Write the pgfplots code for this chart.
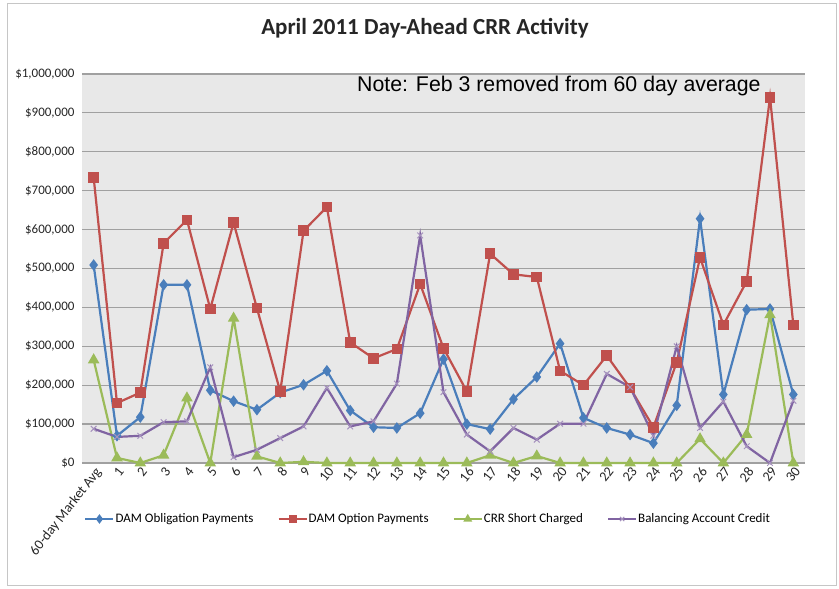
\documentclass[border=0pt]{standalone}
\usepackage{pgfplots}
\pgfplotsset{compat=1.18}
\usepackage{pgfplotstable}
\usepackage{fontspec}
\setmainfont{Carlito}
\newfontfamily\arialfont{Liberation Sans}
\definecolor{cblue}{RGB}{74,126,187}
\definecolor{cred}{RGB}{192,80,77}
\definecolor{cgreen}{RGB}{155,187,89}
\definecolor{cpurple}{RGB}{128,100,162}
\definecolor{plotbg}{RGB}{232,232,232}
\definecolor{gridc}{RGB}{160,160,160}
\pgfplotstableread{
x blue red green purple
0 509 734 265 88
1 70 154 13 67
2 118 181 0 70
3 458 565 20 105
4 458 625 167 107
5 187 396 0 246
6 159 618 372 15
7 137 398 17 34
8 181 184 0 64
9 201 597 3 94
10 237 658 0 193
11 135 310 0 94
12 92 269 0 107
13 90 293 0 204
14 128 460 0 585
15 267 295 0 182
16 100 184 0 73
17 87 538 20 30
18 164 485 0 90
19 221 478 18 60
20 307 237 0 101
21 116 200 0 101
22 90 276 0 229
23 73 193 0 195
24 51 92 0 70
25 148 259 0 300
26 628 528 62 90
27 176 355 0 158
28 394 467 73 43
29 396 940 381 0
30 176 355 0 160
}\datatable
\begin{document}
\begin{tikzpicture}
\useasboundingbox (0pt,0pt) rectangle (839pt,589pt);
\draw[gray!45,line width=1pt] (7pt,3pt) rectangle (836pt,585pt);
\begin{axis}[
  at={(82pt,126pt)}, anchor=south west,
  scale only axis, width=723pt, height=389pt,
  xmin=-0.5, xmax=30.5, ymin=0, ymax=1000,
  axis background/.style={fill=plotbg},
  axis line style={draw=none},
  major tick length=0pt,
  ymajorgrids, grid style={gridc, line width=1.2pt},
  ytick={0,100,...,1000},
  yticklabels={\$0,{\$100,000},{\$200,000},{\$300,000},{\$400,000},{\$500,000},{\$600,000},{\$700,000},{\$800,000},{\$900,000},{\$1,000,000}},
  xtick={0,...,30},
  xticklabels={60-day Market Avg,1,2,3,4,5,6,7,8,9,10,11,12,13,14,15,16,17,18,19,20,21,22,23,24,25,26,27,28,29,30},
  x tick label style={rotate=52, anchor=north east, font=\fontsize{14}{16}\selectfont, text=black!85, inner sep=2pt},
  y tick label style={font=\fontsize{13}{15}\selectfont, text=black!85, xshift=-4pt},
  clip=false,
  legend columns=4,
  legend style={at={(0.003,-0.144)}, anchor=west, draw=none, fill=none, inner sep=0pt,
    font=\fontsize{13}{15}\selectfont, column sep=0pt,
    nodes={inner sep=1pt},
    /tikz/every odd column/.append style={column sep=0pt},
    /tikz/every even column/.append style={column sep=23pt}},
  legend image code/.code={\draw[mark repeat=2,mark phase=2, mark size=3pt] plot coordinates {(0pt,0pt)(14pt,0pt)(28pt,0pt)};},
  every axis plot/.append style={line width=2.2pt},
]
\addplot[cblue, mark=diamond*, mark size=4pt, mark options={solid}] table[x=x,y=blue]{\datatable};
\addlegendentry{DAM Obligation Payments}
\addplot[cred, mark=square*, mark size=4.2pt, mark options={solid}] table[x=x,y=red]{\datatable};
\addlegendentry{DAM Option Payments}
\addplot[cgreen, mark=triangle*, mark size=4.5pt, mark options={solid}] table[x=x,y=green]{\datatable};
\addlegendentry{CRR Short Charged}
\addplot[cpurple, mark=x, mark size=4pt, mark options={solid, line width=1pt, draw=cpurple!70}] table[x=x,y=purple]{\datatable};
\addlegendentry{Balancing Account Credit}
\end{axis}
\node[font=\bfseries\fontsize{23}{26}\selectfont, text=black!85, anchor=base] at (425pt,554pt) {April 2011 Day-Ahead CRR Activity};
\node[font=\arialfont\fontsize{21.3}{24}\selectfont, anchor=base west, inner sep=0pt] at (357pt,497pt) {Note: Feb 3 removed from 60 day average};
\end{tikzpicture}
\end{document}
